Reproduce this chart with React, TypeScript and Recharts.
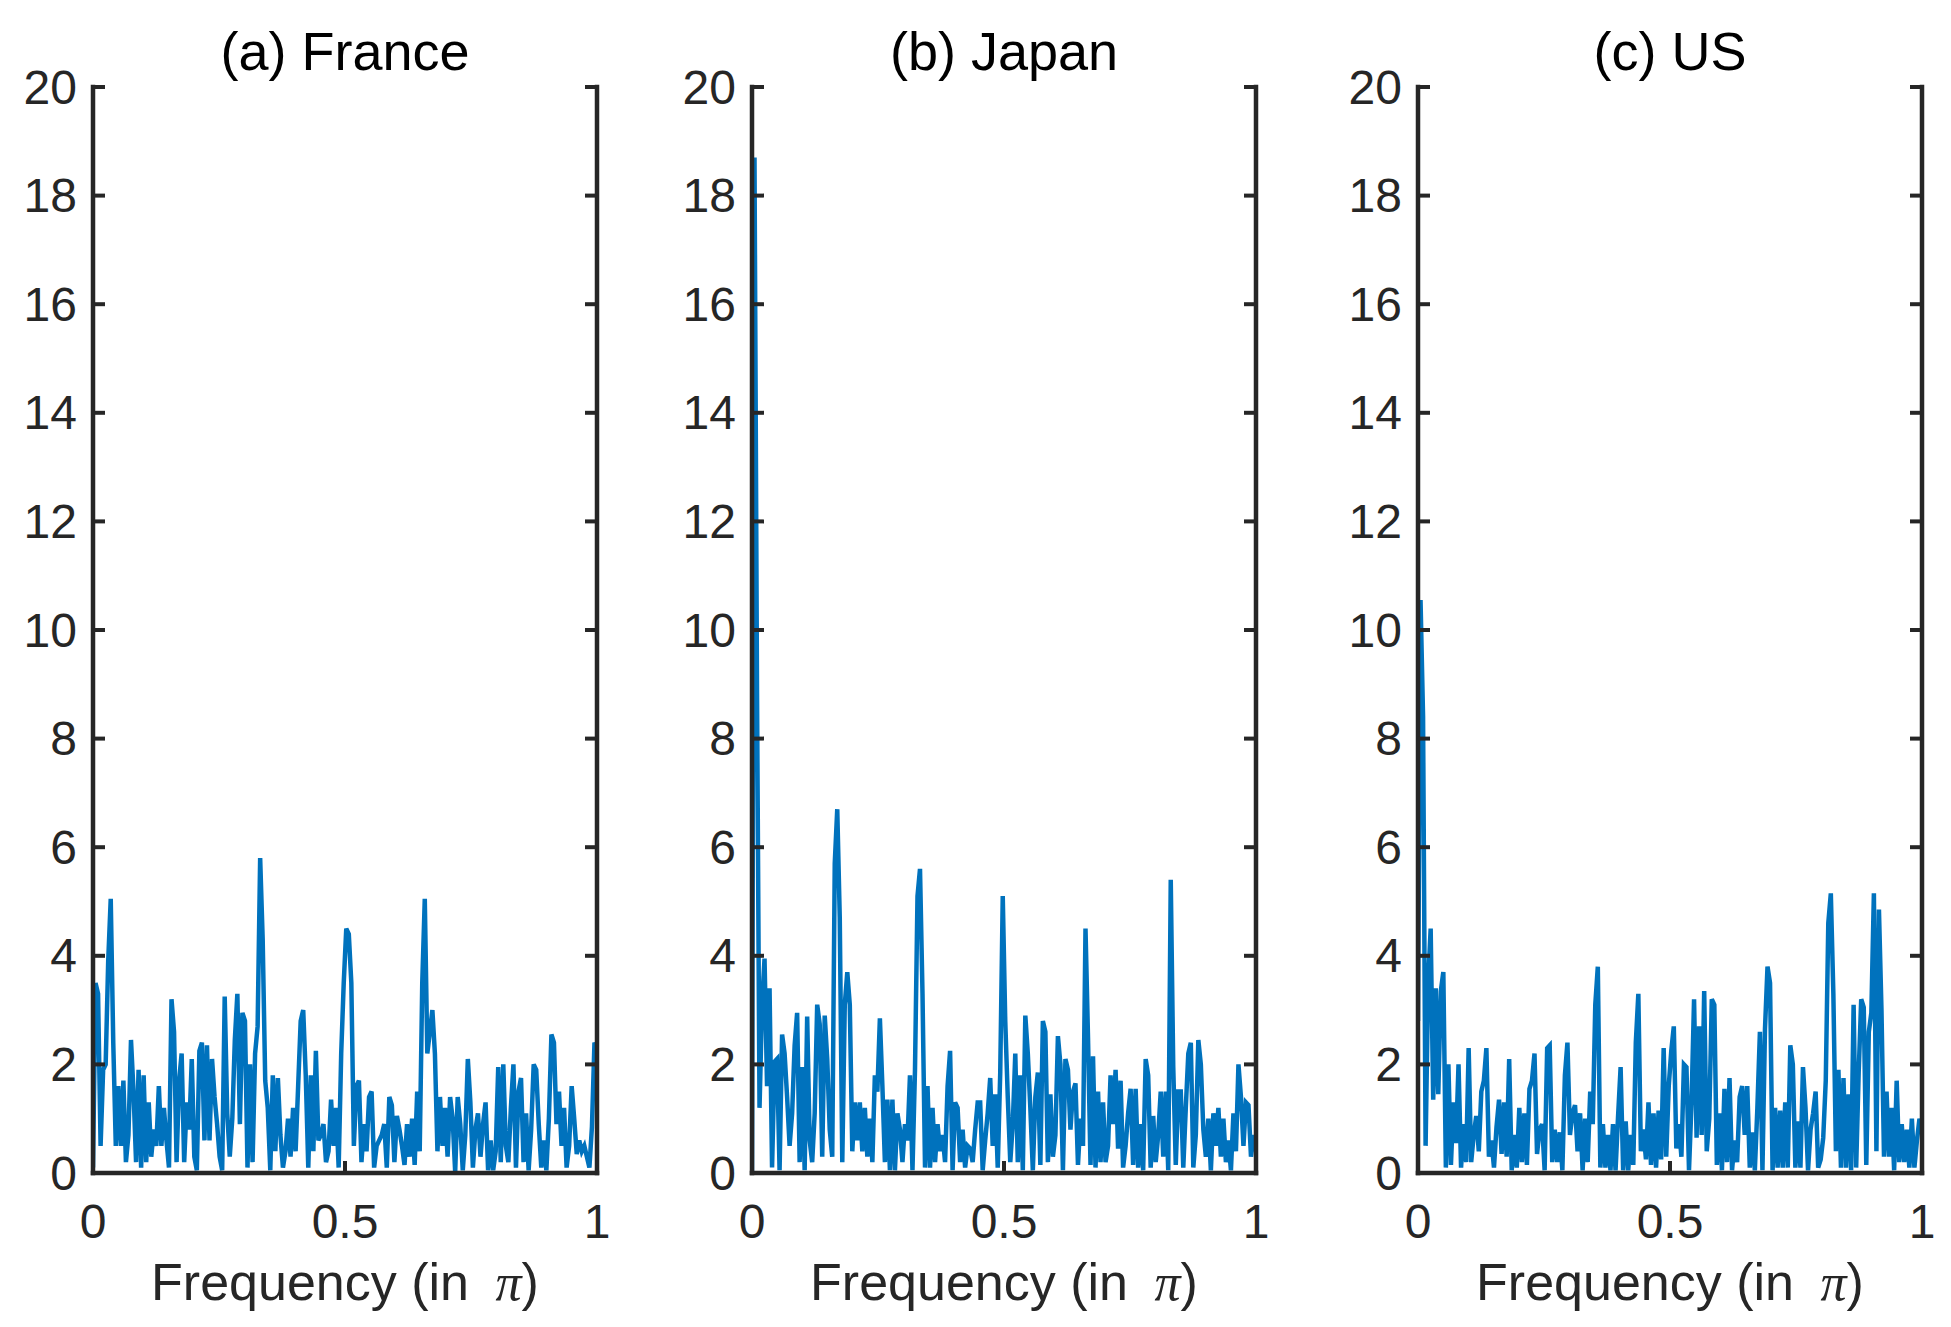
import React from 'react';
import { LineChart, Line, XAxis, YAxis } from 'recharts';

// periodogram values, evenly spaced over frequency 0..1 (in pi)
const francePower = [
  0.1, 3.5, 3.3, 0.5, 1.9, 2.0, 3.9, 5.05, 2.4, 0.5,
  1.6, 0.5, 1.7, 0.2, 0.7, 2.45, 1.5, 0.2, 1.9, 0.1,
  1.8, 0.2, 1.3, 0.3, 0.8, 0.5, 1.6, 0.5, 1.2, 0.6,
  0.1, 3.2, 2.6, 0.2, 1.7, 2.2, 0.2, 1.3, 0.8, 2.1,
  0.3, 0.05, 2.25, 2.4, 0.6, 2.35, 0.6, 2.1, 1.4, 0.9,
  0.3, 0.05, 3.25, 1.1, 0.3, 1.0, 2.45, 3.3, 0.9, 2.95,
  2.8, 0.1, 2.0, 0.2, 2.2, 2.7, 5.8, 4.3, 1.7, 1.2,
  0.05, 1.8, 0.4, 1.75, 0.7, 0.1, 0.4, 1.0, 0.3, 1.2,
  0.4, 1.6, 2.8, 3.0, 1.8, 0.1, 1.8, 0.4, 2.25, 0.6,
  0.7, 0.9, 0.2, 0.4, 1.35, 0.5, 1.2, 0.1, 2.2, 3.5,
  4.5, 4.4, 3.5, 0.5, 1.6, 1.7, 0.2, 0.9, 0.4, 1.4,
  1.5, 0.1, 0.5, 0.6, 0.7, 0.9, 0.1, 1.4, 1.25, 0.2,
  1.05, 0.8, 0.5, 0.15, 0.9, 0.3, 1.0, 0.15, 1.5, 0.4,
  3.5, 5.05, 2.2, 2.6, 3.0, 2.2, 0.4, 1.4, 0.5, 1.2,
  0.3, 1.4, 1.0, 0.02, 1.4, 0.9, 0.05, 0.7, 2.1, 1.3,
  0.1, 0.8, 1.1, 0.3, 0.9, 1.3, 0.05, 0.6, 0.05, 0.4,
  1.95, 0.2, 2.0, 0.5, 0.2, 1.2, 2.0, 0.1, 1.5, 1.75,
  0.2, 1.1, 0.05, 0.8, 2.0, 1.9, 0.9, 0.1, 0.6, 0.05,
  1.0, 2.55, 2.4, 0.9, 1.5, 0.5, 1.2, 0.1, 0.5, 1.6,
  1.0, 0.35, 0.6, 0.4, 0.5, 0.3, 0.1, 0.85, 2.4, 2.3,
];

const japanPower = [
  0, 18.7, 8.9, 1.2, 3.1, 3.95, 1.6, 3.4, 0.1, 2.05,
  2.1, 0.05, 2.55, 2.2, 1.4, 0.5, 1.1, 2.35, 2.95, 0.2,
  1.95, 0.05, 2.88, 0.6, 0.2, 1.1, 3.1, 2.74, 0.3, 2.9,
  2.1, 0.8, 0.3, 5.7, 6.7, 4.7, 0.2, 3.1, 3.7, 3.1,
  0.4, 1.3, 0.6, 1.3, 0.4, 1.2, 0.3, 1.0, 0.2, 1.8,
  1.5, 2.85, 1.6, 0.2, 1.35, 0.05, 1.35, 0.05, 1.1, 0.8,
  0.2, 0.9, 0.6, 1.8, 0.05, 1.9, 5.1, 5.6, 3.3, 0.1,
  1.6, 0.1, 1.2, 0.2, 0.9, 0.4, 0.7, 0.2, 1.6, 2.25,
  0.05, 1.3, 1.2, 0.2, 0.8, 0.1, 0.5, 0.45, 0.2, 0.8,
  1.3, 1.3, 0.05, 0.6, 1.1, 1.75, 0.5, 1.45, 0.1, 1.85,
  5.1, 2.8, 1.4, 0.2, 0.9, 2.2, 0.2, 1.8, 0.05, 2.9,
  2.2, 1.2, 0.05, 1.4, 1.85, 0.15, 2.8, 2.6, 0.2, 1.45,
  0.3, 0.7, 2.52, 2.0, 0.05, 2.1, 1.9, 0.8, 1.5, 1.65,
  0.15, 1.0, 0.5, 4.5, 2.5, 0.15, 2.15, 0.1, 1.5, 0.2,
  1.3, 0.2, 0.5, 1.8, 0.9, 1.9, 0.45, 1.7, 0.1, 0.5,
  1.1, 1.55, 0.15, 1.55, 0.1, 0.9, 0.05, 2.1, 1.8, 0.1,
  1.05, 0.2, 0.7, 1.5, 0.3, 1.5, 0.05, 5.4, 1.95, 0.15,
  1.5, 1.5, 0.1, 1.2, 2.2, 2.4, 0.1, 0.7, 2.45, 2.0,
  0.8, 0.3, 1.0, 0.05, 1.1, 0.5, 1.2, 0.3, 1.0, 0.2,
  0.6, 0.05, 1.1, 0.4, 2.0, 1.4, 0.5, 1.3, 1.25, 0.3,
  0.7, 0.4,
];

const usPower = [
  2.8, 10.55, 8.4, 0.5, 3.5, 4.5, 1.35, 3.4, 1.45, 3.35,
  3.7, 0.1, 2.0, 0.15, 1.3, 0.55, 2.0, 0.1, 0.9, 0.2,
  2.3, 0.2, 0.7, 1.05, 0.4, 1.5, 1.7, 2.3, 0.3, 0.6,
  0.1, 0.85, 1.35, 0.35, 1.3, 0.3, 2.1, 0.05, 0.7, 0.1,
  1.2, 0.2, 1.1, 0.15, 1.55, 1.7, 2.2, 0.35, 0.8, 0.9,
  0.05, 2.3, 2.35, 0.2, 0.8, 0.2, 0.75, 0.05, 1.8, 2.4,
  0.7, 1.1, 1.25, 0.4, 1.1, 0.05, 1.0, 0.2, 1.5, 0.9,
  3.1, 3.8, 0.1, 0.9, 0.1, 0.7, 0.05, 0.9, 0.05, 1.05,
  1.95, 0.05, 0.95, 0.05, 0.7, 0.15, 2.4, 3.3, 0.4, 0.8,
  0.25, 1.3, 0.15, 1.1, 0.1, 1.15, 0.25, 2.3, 0.3, 1.6,
  2.25, 2.7, 0.45, 0.9, 0.3, 2.0, 1.95, 0.05, 1.3, 3.2,
  0.65, 2.7, 0.7, 3.35, 0.4, 1.0, 3.2, 3.1, 0.15, 1.1,
  0.05, 1.55, 0.2, 1.75, 0.05, 0.6, 0.2, 1.4, 1.6, 0.7,
  1.6, 0.1, 0.75, 0.05, 1.2, 2.6, 0.05, 2.65, 3.8, 3.5,
  0.05, 1.2, 0.1, 1.15, 0.1, 1.3, 0.1, 2.35, 2.0, 0.1,
  0.95, 0.1, 1.95, 1.2, 0.05, 0.8, 1.1, 1.5, 0.1, 0.25,
  0.65, 1.7, 4.6, 5.15, 3.3, 0.4, 1.9, 0.1, 1.75, 0.1,
  1.45, 0.05, 3.1, 0.1, 1.85, 3.2, 3.05, 0.15, 2.6, 2.95,
  5.15, 0.4, 4.85, 3.0, 0.3, 1.5, 0.3, 1.2, 0.05, 1.7,
  0.2, 0.9, 0.2, 0.8, 0.1, 1.0, 0.1, 0.6, 1.0, 0.75,
];

const panelTitles = ['(a) France', '(b) Japan', '(c) US'];
const yTicks = [0, 2, 4, 6, 8, 10, 12, 14, 16, 18, 20];
const xTicks = [0, 0.5, 1];
const xTickLabels = ['0', '0.5', '1'];

const PLOT_W = 504;
const PLOT_TOP = 87;
const PLOT_BOTTOM = 1173;
const LEFT_W = 90;
const RIGHT_W = 20;
const CHART_H = 1327;
const CHART_W = LEFT_W + PLOT_W + RIGHT_W;
const plotLefts = [93, 752, 1418];

const AXIS = '#262626';
const FONT = '"Liberation Sans", Arial, Helvetica, sans-serif';
const TICK_LEN = 12;

const toRows = (vals: number[]) =>
  vals.map((p, i) => ({ f: i / (vals.length - 1), p }));

const LeftTick = (props: any) => {
  const { y, payload } = props;
  return (
    <g>
      <line x1={LEFT_W} x2={LEFT_W + TICK_LEN} y1={y} y2={y} stroke={AXIS} strokeWidth={4} />
      <text x={LEFT_W - 16} y={y} textAnchor="end" dominantBaseline="central"
        fontFamily={FONT} fontSize={48} fill={AXIS}>
        {payload.value}
      </text>
    </g>
  );
};

const RightTick = (props: any) => {
  const { y } = props;
  const xr = LEFT_W + PLOT_W;
  return <line x1={xr} x2={xr - TICK_LEN} y1={y} y2={y} stroke={AXIS} strokeWidth={4} />;
};

const BottomTick = (props: any) => {
  const { x, payload } = props;
  const idx = xTicks.indexOf(payload.value);
  return (
    <g>
      <line x1={x} x2={x} y1={PLOT_BOTTOM} y2={PLOT_BOTTOM - TICK_LEN} stroke={AXIS} strokeWidth={4} />
      <text x={x} y={PLOT_BOTTOM + 65} textAnchor="middle" fontFamily={FONT} fontSize={48} fill={AXIS}>
        {idx >= 0 ? xTickLabels[idx] : payload.value}
      </text>
    </g>
  );
};

const TopTick = (props: any) => {
  const { x } = props;
  return <line x1={x} x2={x} y1={PLOT_TOP} y2={PLOT_TOP + TICK_LEN} stroke={AXIS} strokeWidth={4} />;
};

const xLabel = (props: any) => {
  const vb = props.viewBox || { x: LEFT_W, y: PLOT_BOTTOM, width: PLOT_W };
  return (
    <text x={vb.x + vb.width / 2} y={PLOT_BOTTOM + 127} textAnchor="middle"
      fontFamily={FONT} fontSize={52} fill={AXIS}>
      <tspan>Frequency (in </tspan>
      <tspan fontFamily='"Liberation Serif", "Times New Roman", serif' fontStyle="italic" dx={12}>π</tspan>
      <tspan>)</tspan>
    </text>
  );
};

const axisLine = { stroke: AXIS, strokeWidth: 4.5, strokeLinecap: 'square' as const };

function Panel({ values, title, left }: { values: number[]; title: string; left: number }) {
  const rows = toRows(values);
  return (
    <div style={{ position: 'absolute', left: left - LEFT_W, top: 0, width: CHART_W, height: CHART_H }}>
      <svg width={CHART_W} height={PLOT_TOP} style={{ position: 'absolute', left: 0, top: 0 }}>
        <text x={LEFT_W + PLOT_W / 2} y={PLOT_TOP - 17} textAnchor="middle"
          fontFamily={FONT} fontSize={54} fill="#000">
          {title}
        </text>
      </svg>
      <div style={{ position: 'absolute', left: 0, top: 0 }}>
        <LineChart width={CHART_W} height={CHART_H} data={rows}
          margin={{ top: PLOT_TOP, right: 0, bottom: 0, left: 0 }}>
          <XAxis xAxisId="bottom" dataKey="f" type="number" domain={[0, 1]} ticks={xTicks}
            interval={0} height={CHART_H - PLOT_BOTTOM} tick={BottomTick} tickLine={false}
            axisLine={axisLine} label={xLabel} allowDataOverflow />
          <XAxis xAxisId="top" orientation="top" dataKey="f" type="number" domain={[0, 1]}
            ticks={[0.5]} interval={0} height={0} tick={TopTick} tickLine={false}
            axisLine={axisLine} allowDataOverflow />
          <YAxis yAxisId="left" dataKey="p" type="number" domain={[0, 20]} ticks={yTicks}
            interval={0} width={LEFT_W} tick={LeftTick} tickLine={false} axisLine={axisLine}
            allowDataOverflow />
          <YAxis yAxisId="right" orientation="right" dataKey="p" type="number" domain={[0, 20]}
            ticks={yTicks} interval={0} width={RIGHT_W} tick={RightTick} tickLine={false}
            axisLine={axisLine} allowDataOverflow />
          <Line xAxisId="bottom" yAxisId="left" type="linear" dataKey="p" stroke="#0072BD"
            strokeWidth={4.5} dot={false} activeDot={false} isAnimationActive={false} />
        </LineChart>
      </div>
    </div>
  );
}

export default function App() {
  const series = [francePower, japanPower, usPower];
  return (
    <div style={{ position: 'absolute', left: 0, top: 0, width: 1951, height: 1327, background: '#fff' }}>
      {series.map((vals, i) => (
        <Panel key={panelTitles[i]} values={vals} title={panelTitles[i]} left={plotLefts[i]} />
      ))}
    </div>
  );
}
